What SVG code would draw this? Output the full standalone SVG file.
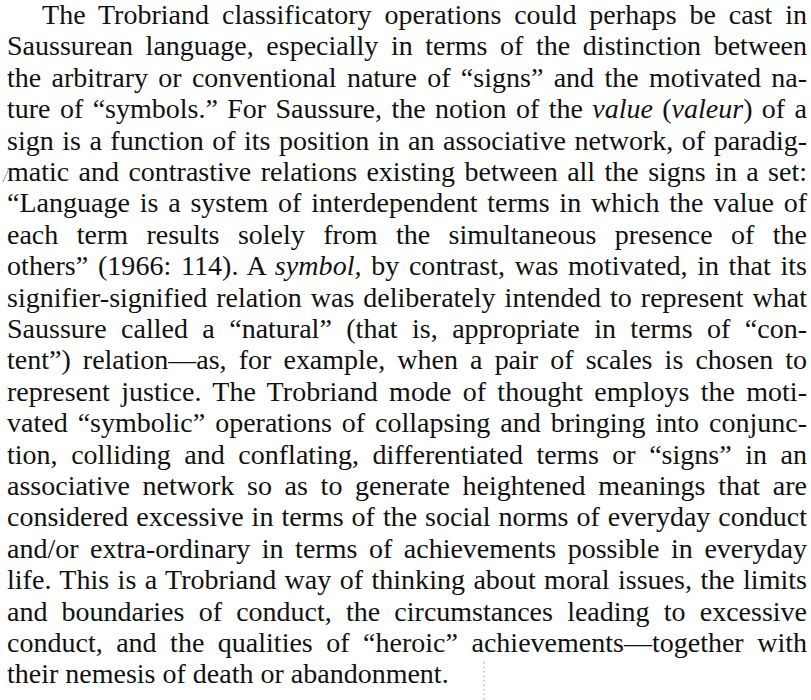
<svg xmlns="http://www.w3.org/2000/svg" width="811" height="700" viewBox="0 0 811 700">
  <style>
    .t { font-family: "Liberation Serif", "Times New Roman", serif; font-size: 28px; fill: #111111; }
    .i { font-style: italic; }
    .speck { fill: none; stroke: #9a9a9a; stroke-width: 1; }
  </style>
  <rect width="811" height="700" fill="#ffffff"/>
  <!-- justified paragraph: word-spacing carries the gaps, textLength trims the remainder -->
  <g id="paragraph" class="t">
    <text x="42" y="24" word-spacing="5.8" textLength="765" lengthAdjust="spacing">The Trobriand classificatory operations could perhaps be cast in</text>
    <text x="7" y="55.4" word-spacing="5.6" textLength="800" lengthAdjust="spacing">Saussurean language, especially in terms of the distinction between</text>
    <text x="7" y="86.8" word-spacing="3.3" textLength="800" lengthAdjust="spacing">the arbitrary or conventional nature of “signs” and the motivated na-</text>
    <text x="7" y="118.2" word-spacing="2.4" textLength="800" lengthAdjust="spacing">ture of “symbols.” For Saussure, the notion of the <tspan class="i">value</tspan> (<tspan class="i">valeur</tspan>) of a</text>
    <text x="7" y="149.6" word-spacing="1.5" textLength="800" lengthAdjust="spacing">sign is a function of its position in an associative network, of paradig-</text>
    <text x="7" y="181" word-spacing="2.4" textLength="800" lengthAdjust="spacing">matic and contrastive relations existing between all the signs in a set:</text>
    <text x="7" y="212.4" word-spacing="2.8" textLength="800" lengthAdjust="spacing">“Language is a system of interdependent terms in which the value of</text>
    <text x="7" y="243.8" word-spacing="11.4" textLength="800" lengthAdjust="spacing">each term results solely from the simultaneous presence of the</text>
    <text x="7" y="275.2" word-spacing="2.5" textLength="800" lengthAdjust="spacing">others” (1966: 114). A <tspan class="i">symbol,</tspan> by contrast, was motivated, in that its</text>
    <text x="7" y="306.6" word-spacing="2" textLength="800" lengthAdjust="spacing">signifier-signified relation was deliberately intended to represent what</text>
    <text x="7" y="338" word-spacing="7.45" textLength="800" lengthAdjust="spacing">Saussure called a “natural” (that is, appropriate in terms of “con-</text>
    <text x="7" y="369.4" word-spacing="5.1" textLength="800" lengthAdjust="spacing">tent”) relation—as, for example, when a pair of scales is chosen to</text>
    <text x="7" y="400.8" word-spacing="4.2" textLength="800" lengthAdjust="spacing">represent justice. The Trobriand mode of thought employs the moti-</text>
    <text x="7" y="432.2" word-spacing="3" textLength="800" lengthAdjust="spacing">vated “symbolic” operations of collapsing and bringing into conjunc-</text>
    <text x="7" y="463.6" word-spacing="6.5" textLength="800" lengthAdjust="spacing">tion, colliding and conflating, differentiated terms or “signs” in an</text>
    <text x="7" y="495" word-spacing="5.7" textLength="800" lengthAdjust="spacing">associative network so as to generate heightened meanings that are</text>
    <text x="7" y="526.4" word-spacing="1" textLength="800" lengthAdjust="spacing">considered excessive in terms of the social norms of everyday conduct</text>
    <text x="7" y="557.8" word-spacing="4.55" textLength="800" lengthAdjust="spacing">and/or extra-ordinary in terms of achievements possible in everyday</text>
    <text x="7" y="589.2" word-spacing="1.33" textLength="800" lengthAdjust="spacing">life. This is a Trobriand way of thinking about moral issues, the limits</text>
    <text x="7" y="620.6" word-spacing="7.2" textLength="800" lengthAdjust="spacing">and boundaries of conduct, the circumstances leading to excessive</text>
    <text x="7" y="652" word-spacing="6.5" textLength="800" lengthAdjust="spacing">conduct, and the qualities of “heroic” achievements—together with</text>
    <text x="7" y="683.4">their nemesis of death or abandonment.</text>
  </g>
  <!-- faint paper specks -->
  <g id="specks">
    <path class="speck" d="M3 182 L9 168"/>
    <path class="speck" d="M484 662 V700" stroke-dasharray="1.5 3"/>
  </g>
</svg>
